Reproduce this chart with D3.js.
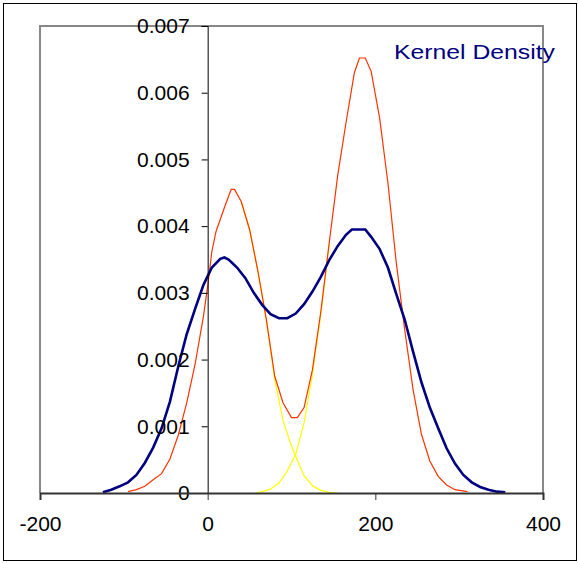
<!DOCTYPE html>
<html>
<head>
<meta charset="utf-8">
<script src="https://cdn.jsdelivr.net/npm/d3@7"></script>
<style>
  body { margin: 0; background: #fff; }
  text { font-family: "Liberation Sans", Arial, sans-serif; }
</style>
</head>
<body>
<svg width="578" height="563"></svg>
<script>
// x ticks and y ticks
const xTicks = [-200, 0, 200, 400];
const yTicks = [0, 0.001, 0.002, 0.003, 0.004, 0.005, 0.006, 0.007];

// kernel density estimate (navy)
const kernelDensity = [
  [-125, 0.00001], [-115, 0.00005], [-105, 0.0001], [-95, 0.00016], [-85, 0.00027],
  [-75, 0.00045], [-65, 0.00068], [-55, 0.00097], [-45, 0.00137], [-35, 0.0019],
  [-25, 0.00238], [-15, 0.00276], [-5, 0.00312], [5, 0.00338], [15, 0.00351],
  [20, 0.00353], [25, 0.0035], [35, 0.00338], [45, 0.00322], [55, 0.003],
  [65, 0.00282], [75, 0.00268], [85, 0.00262], [95, 0.00262], [105, 0.00269],
  [115, 0.00283], [125, 0.00302], [135, 0.00324], [145, 0.00349], [155, 0.0037],
  [165, 0.00387], [172, 0.00395], [188, 0.00395], [195, 0.00384], [205, 0.00366],
  [215, 0.00338], [225, 0.00298], [235, 0.0026], [245, 0.00212], [255, 0.00166],
  [265, 0.00128], [275, 0.00097], [285, 0.00067], [295, 0.00044], [305, 0.00027],
  [315, 0.00016], [325, 0.00009], [335, 0.00005], [345, 0.00002], [355, 0.00001]
];

// mixture density (red)
const mixture = [
  [-95, 0.00002], [-85, 0.00005], [-75, 0.0001], [-65, 0.0002], [-55, 0.00029],
  [-45, 0.00051], [-35, 0.00087], [-25, 0.00135], [-15, 0.00193], [-5, 0.00265],
  [0, 0.0031], [5, 0.00362], [10, 0.00392], [20, 0.00428], [28, 0.00455],
  [32, 0.00455], [40, 0.00437], [50, 0.00395], [60, 0.00332], [70, 0.0026],
  [80, 0.00175], [90, 0.00135], [100, 0.00113], [107, 0.00113], [115, 0.00128],
  [125, 0.00185], [135, 0.00272], [145, 0.00375], [155, 0.00475], [165, 0.00555],
  [175, 0.0063], [181, 0.00652], [188, 0.00652], [195, 0.00632], [205, 0.00563],
  [215, 0.00465], [225, 0.00345], [235, 0.00245], [245, 0.00155], [255, 0.00088],
  [265, 0.00048], [275, 0.00025], [285, 0.00012], [295, 0.00005], [310, 0.00002]
];

// mixture components (yellow), only the part that shows below the red
const componentA = [
  [40, 0.00437], [50, 0.00395], [60, 0.00332], [70, 0.0026], [80, 0.0017],
  [90, 0.00108], [100, 0.0007], [105, 0.00055], [115, 0.00026], [125, 0.00011],
  [135, 0.00004], [145, 0.00001], [155, 0]
];
const componentB = [
  [57, 0], [65, 0.00002], [75, 0.00006], [85, 0.00015], [95, 0.00033],
  [105, 0.00058], [115, 0.00105], [125, 0.00178], [135, 0.00268], [145, 0.00374]
];

const svg = d3.select('svg');
const plotLeft = 40, plotRight = 543, plotTop = 26, plotBottom = 493;

const x = d3.scaleLinear().domain([-200, 400]).range([plotLeft, plotRight]);
const y = d3.scaleLinear().domain([0, 0.007]).range([plotBottom, plotTop]);

// outer frame
svg.append('rect')
  .attr('x', 3.5).attr('y', 3.5)
  .attr('width', 573).attr('height', 557)
  .attr('fill', 'none').attr('stroke', '#000').attr('stroke-width', 1);

// plot area border (gray)
svg.append('path')
  .attr('d', `M${plotLeft},${plotBottom} V${plotTop} H${plotRight} V${plotBottom}`)
  .attr('fill', 'none').attr('stroke', '#888').attr('stroke-width', 2);

const line = d3.line()
  .x((d) => x(d[0]))
  .y((d) => y(d[1]));

// curves
svg.append('path').attr('d', line(componentA))
  .attr('fill', 'none').attr('stroke', '#ffff00').attr('stroke-width', 1.2);
svg.append('path').attr('d', line(componentB))
  .attr('fill', 'none').attr('stroke', '#ffff00').attr('stroke-width', 1.2);
svg.append('path').attr('d', line(mixture))
  .attr('fill', 'none').attr('stroke', '#ff3300').attr('stroke-width', 1.2);
svg.append('path').attr('d', line(kernelDensity))
  .attr('fill', 'none').attr('stroke', '#000080').attr('stroke-width', 2.6);

// y axis at x = 0
const yAxis = svg.append('g')
  .attr('transform', `translate(${x(0)},0)`)
  .call(d3.axisLeft(y).tickValues(yTicks).tickSize(6).tickPadding(12)
    .tickFormat((d) => d === 0 ? '0' : d3.format('.3f')(d)));
yAxis.select('.domain').attr('stroke', '#000').attr('stroke-width', 1);
yAxis.selectAll('.tick line').attr('stroke', '#000');
yAxis.selectAll('text')
  .attr('font-size', 21).attr('fill', '#000')
  .style('font-family', '"Liberation Sans", Arial, sans-serif');

// x axis (plain hyphen for negatives, like the original)
const xAxis = svg.append('g')
  .attr('transform', `translate(0,${plotBottom})`)
  .call(d3.axisBottom(x).tickValues(xTicks).tickSize(7).tickPadding(16)
    .tickFormat((d) => String(d)));
xAxis.select('.domain').attr('stroke', '#333').attr('stroke-width', 2);
xAxis.selectAll('.tick line').attr('stroke', '#333');
xAxis.selectAll('text')
  .attr('font-size', 21).attr('fill', '#000')
  .style('font-family', '"Liberation Sans", Arial, sans-serif');

// label
svg.append('text')
  .attr('x', 394).attr('y', 59)
  .attr('font-size', 21)
  .attr('fill', '#000080')
  .attr('textLength', 161)
  .attr('lengthAdjust', 'spacingAndGlyphs')
  .text('Kernel Density');
</script>
</body>
</html>
